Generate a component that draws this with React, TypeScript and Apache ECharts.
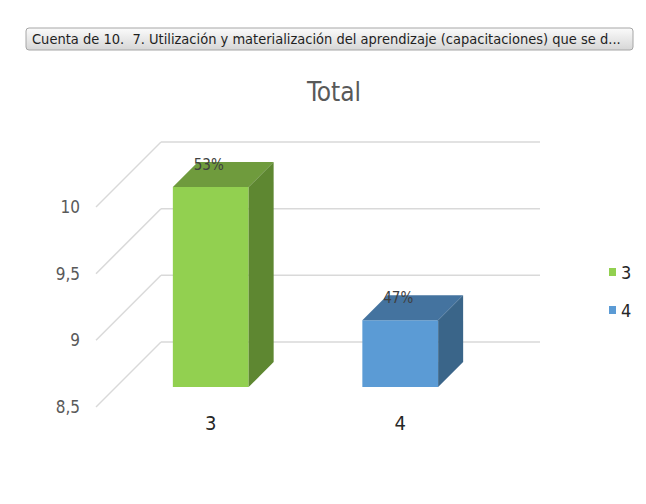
import React, { useEffect, useRef } from 'react';
import * as echarts from 'echarts';

const categories = ['3', '4'];
const values = [10, 9];
const percentLabels = ['53%', '47%'];
const yTicks = [8.5, 9, 9.5, 10];
const yMin = 8.5;
const yMax = 10;
const headerText = 'Cuenta de 10.  7. Utilización y materialización del aprendizaje (capacitaciones) que se d...';
const titleText = 'Total';

const FRONT = ['#92D050', '#5B9BD5'];
const TOP = ['#6F9B3D', '#44739F'];
const SIDE = ['#5E8731', '#3A6589'];
const FONT = "'Liberation Sans Narrow', 'DejaVu Sans Condensed', sans-serif";

export default function App() {
  const ref = useRef<HTMLDivElement>(null);
  useEffect(() => {
    if (!ref.current) return;
    const chart = echarts.init(ref.current, undefined, { renderer: 'svg' });
    const depth = 25;
    const wallDepth = 65;

    const barSeries = categories.map((name, idx) => ({
      type: 'custom',
      name,
      xAxisIndex: 0,
      yAxisIndex: 0,
      itemStyle: { color: FRONT[idx] },
      data: [[idx, values[idx]]],
      z: 5,
      renderItem: (params: any, api: any) => {
        const i = api.value(0);
        const v = api.value(1);
        const top = api.coord([i, v]);
        const base = api.coord([i, yMin]);
        const w = api.size([1, 0])[0] * 0.4;
        const x0 = top[0] - w / 2;
        const x1 = top[0] + w / 2;
        const d = depth;
        return {
          type: 'group',
          children: [
            {
              type: 'rect',
              shape: { x: x0, y: top[1], width: w, height: base[1] - top[1] },
              style: { fill: FRONT[idx] },
            },
            {
              type: 'polygon',
              shape: { points: [[x0, top[1]], [x1, top[1]], [x1 + d, top[1] - d], [x0 + d, top[1] - d]] },
              style: { fill: TOP[idx] },
            },
            {
              type: 'polygon',
              shape: { points: [[x1, top[1]], [x1 + d, top[1] - d], [x1 + d, base[1] - d], [x1, base[1]]] },
              style: { fill: SIDE[idx] },
            },
            {
              type: 'text',
              x: top[0] - 2,
              y: top[1] - 22,
              style: {
                text: percentLabels[idx],
                fontSize: 15,
                fontFamily: FONT,
                fill: '#404040',
                align: 'center',
                verticalAlign: 'middle',
              },
            },
          ],
        };
      },
    }));

    const wallSeries = {
      type: 'custom',
      name: 'walls',
      xAxisIndex: 2,
      yAxisIndex: 2,
      data: yTicks.map((t) => [0, t]),
      z: 1,
      silent: true,
      renderItem: (params: any, api: any) => {
        const v = api.value(1);
        const a = api.coord([0, v]);
        const b = api.coord([1, v]);
        return {
          type: 'group',
          children: [
            {
              type: 'line',
              shape: { x1: a[0], y1: a[1], x2: b[0], y2: b[1] },
              style: { stroke: '#D9D9D9', lineWidth: 1.5 },
            },
            {
              type: 'line',
              shape: { x1: a[0], y1: a[1], x2: a[0] - wallDepth, y2: a[1] + wallDepth },
              style: { stroke: '#D9D9D9', lineWidth: 1.5 },
            },
          ],
        };
      },
    };

    chart.setOption({
      animation: false,
      backgroundColor: '#ffffff',
      title: {
        text: titleText,
        left: 329,
        top: 74,
        textAlign: 'center',
        textStyle: { fontSize: 26, fontWeight: 'normal', color: '#595959', fontFamily: FONT },
      },
      legend: {
        data: categories,
        orient: 'vertical',
        left: 604,
        top: 258,
        icon: 'rect',
        itemWidth: 7,
        itemHeight: 8,
        itemGap: 20,
        textStyle: { fontSize: 18, color: '#262626', fontFamily: FONT },
      },
      grid: [
        { left: 116, top: 187, width: 379, height: 200 },
        { left: 96, top: 207, width: 379, height: 200 },
        { left: 161, top: 142, width: 379, height: 200 },
      ],
      xAxis: [
        {
          type: 'category',
          gridIndex: 0,
          data: categories,
          axisLine: { show: false },
          axisTick: { show: false },
          axisLabel: { fontSize: 20, color: '#262626', margin: 26, fontFamily: FONT },
        },
        { type: 'value', gridIndex: 1, min: 0, max: 1, show: false },
        { type: 'value', gridIndex: 2, min: 0, max: 1, show: false },
      ],
      yAxis: [
        { type: 'value', gridIndex: 0, min: yMin, max: yMax, interval: 0.5, show: false },
        {
          type: 'value',
          gridIndex: 1,
          min: yMin,
          max: yMax,
          interval: 0.5,
          axisLine: { show: false },
          axisTick: { show: false },
          splitLine: { show: false },
          axisLabel: {
            fontSize: 17,
            color: '#595959',
            margin: 16,
            fontFamily: FONT,
            formatter: (v: number) => String(v).replace('.', ','),
          },
        },
        { type: 'value', gridIndex: 2, min: yMin, max: yMax, interval: 0.5, show: false },
      ],
      graphic: [
        {
          type: 'group',
          children: [
            {
              type: 'rect',
              shape: { x: 26, y: 28, width: 607, height: 22, r: 3 },
              style: {
                fill: new echarts.graphic.LinearGradient(0, 0, 0, 1, [
                  { offset: 0, color: '#FBFBFB' },
                  { offset: 1, color: '#D6D6D6' },
                ]),
                stroke: '#A6A6A6',
                lineWidth: 1,
              },
            },
            {
              type: 'text',
              x: 32,
              y: 39,
              style: {
                text: headerText,
                fontSize: 14.5,
                fontFamily: FONT,
                fill: '#1F1F1F',
                verticalAlign: 'middle',
              },
            },
          ],
        },
      ],
      series: [wallSeries, ...barSeries],
    });
    return () => chart.dispose();
  }, []);
  return (
    <div
      ref={ref}
      style={{ position: 'absolute', left: 0, top: 0, width: 646, height: 504 }}
    />
  );
}
